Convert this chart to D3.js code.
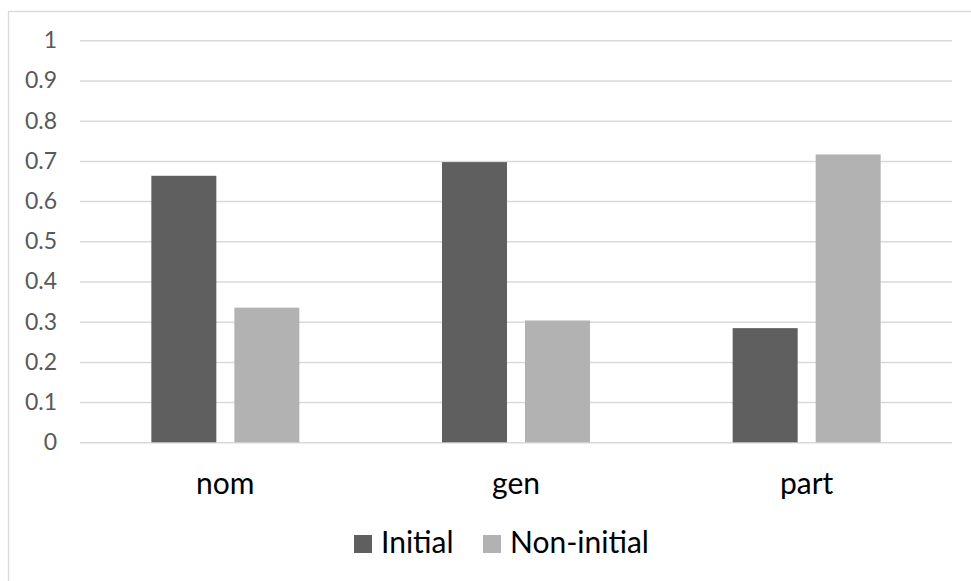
<!DOCTYPE html>
<html><head><meta charset="utf-8">
<script src="https://cdn.jsdelivr.net/npm/d3@7"></script>
<style>body{margin:0;background:#fff}svg{display:block}</style>
</head><body>
<script>
const categories = ["nom", "gen", "part"];
const seriesNames = ["Initial", "Non-initial"];
const initialValues = [0.663, 0.697, 0.284];
const nonInitialValues = [0.335, 0.303, 0.716];
const yTicks = [0, 0.1, 0.2, 0.3, 0.4, 0.5, 0.6, 0.7, 0.8, 0.9, 1];
const colors = ["#5f5f5f", "#b2b2b2"];

const W = 971, H = 581;
const plotL = 80, plotR = 952, plotT = 40.3, plotB = 442.3;
const font = "Lato, 'Open Sans', sans-serif";

const svg = d3.select("body").append("svg").attr("width", W).attr("height", H);
svg.append("rect").attr("x", 8.5).attr("y", 11.5).attr("width", 1000).attr("height", 1000)
  .attr("fill", "#fff").attr("stroke", "#d9d9d9").attr("stroke-width", 1.3);

const y = d3.scaleLinear().domain([0, 1]).range([plotB, plotT]);
const x0 = d3.scaleBand().domain(categories).range([plotL, plotR]).paddingInner(0.4908).paddingOuter(0.2454);
const x1 = d3.scaleBand().domain(seriesNames).range([0, x0.bandwidth()]).paddingInner(0.2169).paddingOuter(0);

const yAxis = d3.axisLeft(y).tickValues(yTicks).tickSize(-(plotR - plotL)).tickPadding(23)
  .tickFormat(d => d3.format("")(+d.toFixed(1)));
const gy = svg.append("g").attr("transform", `translate(${plotL},0)`).call(yAxis);
gy.select(".domain").remove();
gy.selectAll(".tick line").attr("stroke", "#d9d9d9").attr("stroke-width", 1.5);
gy.selectAll(".tick text").attr("fill", "#595959").style("font-family", font).style("font-size", "23px");

const data = categories.map((c, i) => ({cat: c, vals: [initialValues[i], nonInitialValues[i]]}));
const groups = svg.append("g").selectAll("g").data(data).join("g")
  .attr("transform", d => `translate(${x0(d.cat)},0)`);
groups.selectAll("rect").data(d => d.vals.map((v, j) => ({s: seriesNames[j], v, j}))).join("rect")
  .attr("x", d => x1(d.s)).attr("width", x1.bandwidth())
  .attr("y", d => y(d.v)).attr("height", d => plotB - y(d.v))
  .attr("fill", d => colors[d.j]);

const xAxis = d3.axisBottom(x0).tickSize(0).tickPadding(30);
const gx = svg.append("g").attr("transform", `translate(0,${plotB})`).call(xAxis);
gx.select(".domain").remove();
gx.selectAll(".tick text").attr("fill", "#000").style("font-family", font).style("font-size", "30px");

// Legend
const legend = svg.append("g");
const legendX = [354, 483];
seriesNames.forEach((s, j) => {
  legend.append("rect").attr("x", legendX[j]).attr("y", 535).attr("width", 18).attr("height", 18).attr("fill", colors[j]);
  legend.append("text").attr("x", legendX[j] + 27).attr("y", 553).text(s)
    .attr("fill", "#000").style("font-family", font).style("font-size", "30px");
});
</script>
</body></html>
